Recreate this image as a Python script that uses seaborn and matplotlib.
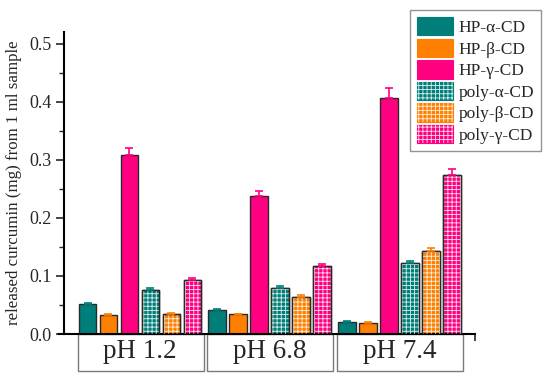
import matplotlib
matplotlib.use('Agg')
import matplotlib.pyplot as plt
import pandas as pd
import seaborn as sns
from matplotlib.patches import Patch, Rectangle
from matplotlib.legend_handler import HandlerTuple

# Data
ph_levels = ['pH 1.2', 'pH 6.8', 'pH 7.4']
samples = ['HP-α-CD', 'HP-β-CD', 'HP-γ-CD', 'poly-α-CD', 'poly-β-CD', 'poly-γ-CD']
hp_alpha = [0.052, 0.041, 0.021]
hp_beta = [0.033, 0.034, 0.019]
hp_gamma = [0.309, 0.237, 0.407]
poly_alpha = [0.076, 0.079, 0.122]
poly_beta = [0.034, 0.064, 0.143]
poly_gamma = [0.093, 0.117, 0.273]
err_hp_alpha = [0.002, 0.002, 0.001]
err_hp_beta = [0.001, 0.001, 0.001]
err_hp_gamma = [0.012, 0.010, 0.016]
err_poly_alpha = [0.003, 0.003, 0.004]
err_poly_beta = [0.002, 0.003, 0.005]
err_poly_gamma = [0.003, 0.004, 0.011]

colors = ['#007F7A', '#FF8000', '#FF0080', '#007F7A', '#FF8000', '#FF0080']
hatched = [False, False, False, True, True, True]

values = [hp_alpha, hp_beta, hp_gamma, poly_alpha, poly_beta, poly_gamma]
errors = [err_hp_alpha, err_hp_beta, err_hp_gamma, err_poly_alpha, err_poly_beta, err_poly_gamma]

rows = []
for s, vals in zip(samples, values):
    for p, v in zip(ph_levels, vals):
        rows.append({'pH': p, 'sample': s, 'value': v})
df = pd.DataFrame(rows)

sns.set_style('ticks')
plt.rcParams['font.family'] = ['Liberation Serif', 'DejaVu Serif']
plt.rcParams['hatch.linewidth'] = 0.6

fig = plt.figure(figsize=(5.5, 3.79), dpi=100)
ax = fig.add_axes([0.1164, 0.1187, 0.7472, 0.7969])

sns.barplot(data=df, x='pH', y='value', hue='sample', order=ph_levels,
            hue_order=samples, palette=colors, width=0.97, gap=0.15,
            edgecolor='#2a2a2a', linewidth=1.0, saturation=1, ax=ax,
            legend=False, errorbar=None)

# hatching, outlines and error bars on each series
bar_groups = list(ax.containers)
for i, cont in enumerate(bar_groups):
    xs, hs = [], []
    for bar in cont.patches:
        x0, w, h = bar.get_x(), bar.get_width(), bar.get_height()
        xs.append(x0 + w / 2)
        hs.append(h)
        if hatched[i]:
            ax.add_patch(Rectangle((x0, 0), w, h, facecolor='none', edgecolor='#ffffffdd',
                                   hatch='++++', linewidth=0, zorder=3))
            ax.add_patch(Rectangle((x0, 0), w, h, facecolor='none', edgecolor='#2a2a2a',
                                   linewidth=1.0, zorder=4))
    ax.errorbar(xs, hs, yerr=[[0] * len(hs), errors[i]], fmt='none', ecolor=colors[i],
                elinewidth=1.2, capsize=3, capthick=1.2, zorder=5)

xmin, xmax = -0.585, 2.58
ax.set_xlim(xmin, xmax)
ax.set_ylim(0, 0.52)
ax.set_yticks([0.0, 0.1, 0.2, 0.3, 0.4, 0.5])
ax.set_yticks([0.05, 0.15, 0.25, 0.35, 0.45], minor=True)
ax.set_yticklabels(['0.0', '0.1', '0.2', '0.3', '0.4', '0.5'], fontsize=13)
ax.tick_params(axis='y', which='major', length=6, width=1.2, direction='out', pad=3)
ax.tick_params(axis='y', which='minor', length=3.5, width=1.0, direction='out')
ax.set_xticks([xmax])
ax.set_xticklabels([''])
ax.tick_params(axis='x', length=5, width=1.2, direction='out')
ax.set_xlabel('')
ax.set_ylabel('released curcumin (mg) from 1 ml sample', fontsize=12.2, labelpad=5)
sns.despine(ax=ax)
for side in ['left', 'bottom']:
    ax.spines[side].set_linewidth(1.5)
    ax.spines[side].set_color('black')
ax.spines['bottom'].set_bounds(xmin - 0.04, xmax)

# category boxes below the axis
trans = ax.get_xaxis_transform()
for k, lab in enumerate(ph_levels):
    ax.add_patch(Rectangle((k - 0.48, -0.1225), 0.97, 0.1225, transform=trans,
                           facecolor='white', edgecolor='#7a7a7a', linewidth=1.0,
                           clip_on=False, zorder=1))
    ax.text(k, -0.058, lab, transform=trans, ha='center', va='center', fontsize=19.5)

# legend
handles = []
for c, h in zip(colors, hatched):
    if h:
        handles.append((Patch(facecolor=c, edgecolor=c, linewidth=0.8),
                        Patch(facecolor='none', edgecolor='#ffffffdd', hatch='++++', linewidth=0)))
    else:
        handles.append(Patch(facecolor=c, edgecolor=c, linewidth=0.8))
leg = fig.legend(handles, samples, loc='upper right', bbox_to_anchor=(0.9836, 0.9736),
                 borderaxespad=0, fontsize=12.5, frameon=True, fancybox=False,
                 handlelength=2.1, handleheight=1.25, labelspacing=0.15,
                 handletextpad=0.3, borderpad=0.4,
                 handler_map={tuple: HandlerTuple(ndivide=1, pad=0)})
leg.get_frame().set_edgecolor('#7a7a7a')
leg.get_frame().set_linewidth(1.0)

fig.savefig('out.png', dpi=100)
